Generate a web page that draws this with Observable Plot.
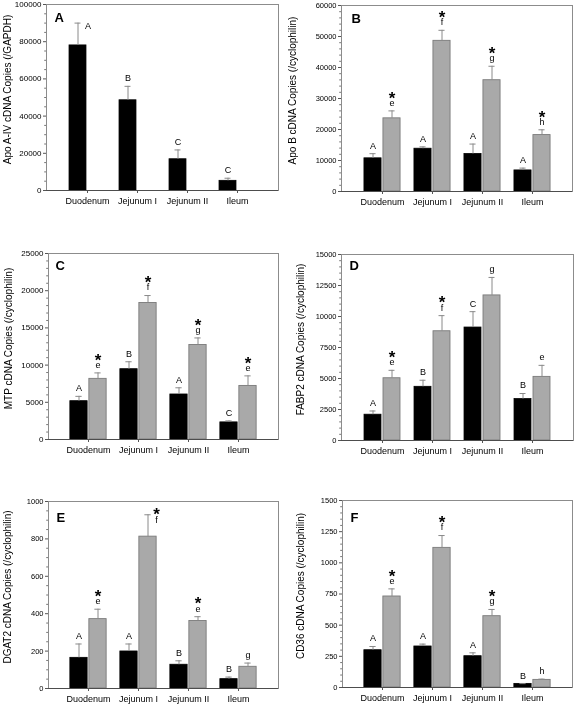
<!DOCTYPE html>
<html>
<head>
<meta charset="utf-8">
<script src="https://cdn.jsdelivr.net/npm/d3@7"></script>
<script src="https://cdn.jsdelivr.net/npm/@observablehq/plot@0.6"></script>
<style>
  html, body { margin: 0; padding: 0; background: #fff; }
  #root { position: relative; width: 574px; height: 706px; overflow: hidden; background: #fff; }
  .panel { position: absolute; will-change: transform; }
  .panel svg text { -webkit-font-smoothing: antialiased; }
</style>
</head>
<body>
<div id="root"></div>
<script>
const categories = ["Duodenum", "Jejunum I", "Jejunum II", "Ileum"];

// Panel A – Apo A-IV
const apoA4Black = [78000, 48500, 16800, 5200];
const apoA4BlackSE = [12000, 7500, 5000, 1400];
const apoA4Gray = [0, 0, 0, 0];
const apoA4GraySE = [0, 0, 0, 0];
const apoA4BlackLetters = ["A", "B", "C", "C"];
const apoA4GrayLetters = ["", "", "", ""];
const apoA4Stars = [false, false, false, false];
const apoA4Ticks = [0, 20000, 40000, 60000, 80000, 100000];

// Panel B – Apo B
const apoBBlack = [10700, 13800, 12100, 6800];
const apoBBlackSE = [1500, 600, 3200, 750];
const apoBGray = [23600, 48600, 35900, 18200];
const apoBGraySE = [2400, 3400, 4500, 1700];
const apoBBlackLetters = ["A", "A", "A", "A"];
const apoBGrayLetters = ["e", "f", "g", "h"];
const apoBStars = [true, true, true, true];
const apoBTicks = [0, 10000, 20000, 30000, 40000, 50000, 60000];

// Panel C – MTP
const mtpBlack = [5150, 9450, 6050, 2300];
const mtpBlackSE = [650, 1000, 900, 200];
const mtpGray = [8150, 18350, 12700, 7200];
const mtpGraySE = [800, 1000, 950, 1350];
const mtpBlackLetters = ["A", "B", "A", "C"];
const mtpGrayLetters = ["e", "f", "g", "e"];
const mtpStars = [true, true, true, true];
const mtpTicks = [0, 5000, 10000, 15000, 20000, 25000];

// Panel D – FABP2
const fabp2Black = [2080, 4330, 9110, 3340];
const fabp2BlackSE = [300, 530, 1280, 450];
const fabp2Gray = [5020, 8810, 11700, 5130];
const fabp2GraySE = [640, 1260, 1450, 930];
const fabp2BlackLetters = ["A", "B", "C", "B"];
const fabp2GrayLetters = ["e", "f", "g", "e"];
const fabp2Stars = [true, true, false, false];
const fabp2Ticks = [0, 2500, 5000, 7500, 10000, 12500, 15000];

// Panel E – DGAT2
const dgat2Black = [164, 198, 127, 50];
const dgat2BlackSE = [74, 40, 21, 11];
const dgat2Gray = [371, 812, 361, 116];
const dgat2GraySE = [53, 117, 23, 20];
const dgat2BlackLetters = ["A", "A", "B", "B"];
const dgat2GrayLetters = ["e", "f", "e", "g"];
const dgat2Stars = [true, true, true, false];
const dgat2Ticks = [0, 200, 400, 600, 800, 1000];

// Panel F – CD36
const cd36Black = [299, 329, 251, 29];
const cd36BlackSE = [30, 19, 27, 2];
const cd36Gray = [730, 1120, 572, 61];
const cd36GraySE = [61, 99, 54, 6];
const cd36BlackLetters = ["A", "A", "A", "B"];
const cd36GrayLetters = ["e", "f", "g", "h"];
const cd36Stars = [true, true, true, false];
const cd36Ticks = [0, 250, 500, 750, 1000, 1250, 1500];

const panels = [
  { id: "A", title: "Apo A-IV cDNA Copies (/GAPDH)", black: apoA4Black, blackSE: apoA4BlackSE, gray: apoA4Gray, graySE: apoA4GraySE,
    blackLetters: apoA4BlackLetters, grayLetters: apoA4GrayLetters, stars: apoA4Stars, ticks: apoA4Ticks,
    lay: { left: 0, top: 0, w: 287, h: 230, ml: 46, mr: 9, mt: 4, mb: 40, labDx: -39, tickFont: 8, minor: 4, letDx: 8, letDy: 8, besideBlack: [0], besideGray: [] } },
  { id: "B", title: "Apo B cDNA Copies (/cyclophilin)", black: apoBBlack, blackSE: apoBBlackSE, gray: apoBGray, graySE: apoBGraySE,
    blackLetters: apoBBlackLetters, grayLetters: apoBGrayLetters, stars: apoBStars, ticks: apoBTicks,
    lay: { left: 287, top: 0, w: 287, h: 230, ml: 54, mr: 2, mt: 5, mb: 39, labDx: -49, tickFont: 7.5, minor: 5, letDx: 10, letDy: 8, besideBlack: [], besideGray: [] } },
  { id: "C", title: "MTP cDNA Copies (/cyclophilin)", black: mtpBlack, blackSE: mtpBlackSE, gray: mtpGray, graySE: mtpGraySE,
    blackLetters: mtpBlackLetters, grayLetters: mtpGrayLetters, stars: mtpStars, ticks: mtpTicks,
    lay: { left: 0, top: 230, w: 287, h: 240, ml: 48, mr: 9, mt: 23, mb: 31, labDx: -40, tickFont: 8, minor: 5, letDx: 7, letDy: 7, besideBlack: [], besideGray: [] } },
  { id: "D", title: "FABP2 cDNA Copies (/cyclophilin)", black: fabp2Black, blackSE: fabp2BlackSE, gray: fabp2Gray, graySE: fabp2GraySE,
    blackLetters: fabp2BlackLetters, grayLetters: fabp2GrayLetters, stars: fabp2Stars, ticks: fabp2Ticks,
    lay: { left: 287, top: 230, w: 287, h: 240, ml: 54, mr: 1, mt: 24, mb: 30, labDx: -41, tickFont: 7.5, minor: 5, letDx: 8, letDy: 6, besideBlack: [], besideGray: [] } },
  { id: "E", title: "DGAT2 cDNA Copies (/cyclophilin)", black: dgat2Black, blackSE: dgat2BlackSE, gray: dgat2Gray, graySE: dgat2GraySE,
    blackLetters: dgat2BlackLetters, grayLetters: dgat2GrayLetters, stars: dgat2Stars, ticks: dgat2Ticks,
    lay: { left: 0, top: 470, w: 287, h: 236, ml: 48, mr: 9, mt: 31, mb: 18, labDx: -41, tickFont: 7.5, minor: 4, letDx: 8, letDy: 11, besideBlack: [], besideGray: [1] } },
  { id: "F", title: "CD36 cDNA Copies (/cyclophilin)", black: cd36Black, blackSE: cd36BlackSE, gray: cd36Gray, graySE: cd36GraySE,
    blackLetters: cd36BlackLetters, grayLetters: cd36GrayLetters, stars: cd36Stars, ticks: cd36Ticks,
    lay: { left: 287, top: 470, w: 287, h: 236, ml: 55, mr: 2, mt: 30, mb: 19, labDx: -42, tickFont: 7.5, minor: 5, letDx: 8, letDy: 12, besideBlack: [], besideGray: [] } }
];

const FONT = "'Liberation Sans', Arial, Helvetica, sans-serif";
const GRAY_FILL = "#a9a9a9";
const GRAY_STROKE = "#7a7a7a";
const ERR = "#8a8a8a";

function drawPanel(p) {
  const L = p.lay;
  const frameW = L.w - L.ml - L.mr;
  const pInner = 0.29, pOuter = 0.43;
  const step = frameW / (categories.length - pInner + 2 * pOuter);
  const half = step * (1 - pInner) / 2;
  const barW = 17, gap = 1;
  const off = gap + barW / 2;   // bar centre distance from category centre
  const capHalf = 3;

  const rows = categories.map((c, i) => ({
    cat: c, i,
    black: p.black[i], bTop: p.black[i] + p.blackSE[i],
    gray: p.gray[i], gTop: p.gray[i] + p.graySE[i],
    bLet: p.blackLetters[i], gLet: p.grayLetters[i], star: p.stars[i],
    bBeside: L.besideBlack.includes(i), gBeside: L.besideGray.includes(i)
  }));
  const hasB = rows.filter(d => d.black > 0);
  const hasG = rows.filter(d => d.gray > 0);

  const yMax = p.ticks[p.ticks.length - 1];
  const majorStep = p.ticks[1] - p.ticks[0];
  const minorTicks = d3.range(0, yMax + 1e-9, majorStep / L.minor).filter(v => !p.ticks.some(t => Math.abs(t - v) < 1e-6));

  const starDy = 0.25 * 17;
  const txt = { fontSize: 9, fill: "black", textAnchor: "middle" };
  const star = { text: d => "*", fontSize: 17, fontWeight: "bold", fill: "black", textAnchor: "middle" };

  const svg = Plot.plot({
    width: L.w, height: L.h,
    marginLeft: L.ml, marginRight: L.mr, marginTop: L.mt, marginBottom: L.mb,
    style: { fontFamily: FONT, background: "#fff", overflow: "visible", color: "black" },
    x: { domain: categories, paddingInner: pInner, paddingOuter: pOuter, axis: null },
    y: { domain: [0, yMax], axis: null },
    marks: [
      Plot.frame({ stroke: "#8c8c8c" }),
      // bars
      Plot.barY(rows, { x: "cat", y: "black", fill: "#000", stroke: "#000", strokeWidth: 0.8,
        insetLeft: half - off - barW / 2, insetRight: half + gap }),
      Plot.barY(rows, { x: "cat", y: "gray", fill: GRAY_FILL, stroke: GRAY_STROKE, strokeWidth: 0.9,
        insetLeft: half + gap, insetRight: half - off - barW / 2 }),
      // error bars
      Plot.ruleX(hasB, { x: "cat", y1: "black", y2: "bTop", dx: -off, stroke: ERR, strokeWidth: 1 }),
      Plot.tickY(hasB, { x: "cat", y: "bTop", stroke: ERR, strokeWidth: 1,
        insetLeft: half - off - capHalf, insetRight: half + off - capHalf }),
      Plot.ruleX(hasG, { x: "cat", y1: "gray", y2: "gTop", dx: off, stroke: ERR, strokeWidth: 1 }),
      Plot.tickY(hasG, { x: "cat", y: "gTop", stroke: ERR, strokeWidth: 1,
        insetLeft: half + off - capHalf, insetRight: half - off - capHalf }),
      // baseline
      Plot.ruleY([0], { stroke: "#4d4d4d", strokeWidth: 1 }),
      // axes
      Plot.axisX({ tickSize: 3, tickPadding: 4, fontSize: 9, label: null, stroke: "#555", fill: "black" }),
      Plot.axisY({ ticks: p.ticks, tickSize: 3, tickPadding: 2, fontSize: L.tickFont, label: null,
        tickFormat: d => String(d), stroke: "#555", fill: "black" }),
      Plot.axisY({ ticks: minorTicks, tickSize: 1.8, tickFormat: () => "", label: null, stroke: "#777" }),
      // significance letters (above)
      Plot.text(rows.filter(d => d.bLet && !d.bBeside), { ...txt, x: "cat", y: "bTop", text: "bLet", dx: -off, dy: -8 }),
      Plot.text(rows.filter(d => d.gLet && !d.gBeside), { ...txt, x: "cat", y: "gTop", text: "gLet", dx: off, dy: -8 }),
      Plot.text(rows.filter(d => d.star && !d.gBeside), { ...star, x: "cat", y: "gTop", dx: off, dy: -17 + starDy }),
      // letters placed beside the error bar (near the frame top)
      Plot.text(rows.filter(d => d.bLet && d.bBeside), { ...txt, x: "cat", y: "bTop", text: "bLet", dx: -off + 10, dy: 3 }),
      Plot.text(rows.filter(d => d.gLet && d.gBeside), { ...txt, x: "cat", y: "gTop", text: "gLet", dx: off + 8.5, dy: 5 }),
      Plot.text(rows.filter(d => d.star && d.gBeside), { ...star, x: "cat", y: "gTop", dx: off + 8.5, dy: -4 + starDy }),
      // y axis title
      Plot.text([p.title], { text: d => d, frameAnchor: "left", textAnchor: "middle", lineAnchor: "middle",
        rotate: -90, dx: L.labDx, dy: -8, fontSize: 10, fill: "black" }),
      // panel letter
      Plot.text([p.id], { text: d => d, frameAnchor: "top-left", textAnchor: "start", lineAnchor: "top",
        dx: L.letDx, dy: L.letDy, fontSize: 13, fontWeight: "bold", fill: "black" })
    ]
  });
  const div = document.createElement("div");
  div.className = "panel";
  div.style.left = L.left + "px";
  div.style.top = L.top + "px";
  div.appendChild(svg);
  document.getElementById("root").appendChild(div);
}

panels.forEach(drawPanel);
</script>
</body>
</html>
